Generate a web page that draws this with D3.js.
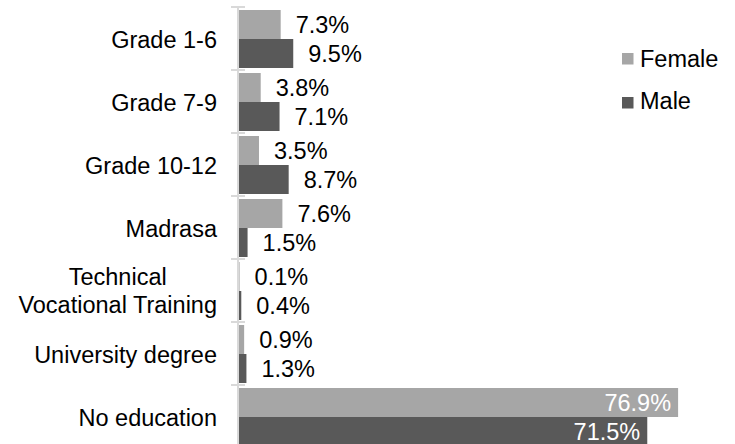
<!DOCTYPE html>
<html>
<head>
<meta charset="utf-8">
<script src="https://cdn.jsdelivr.net/npm/d3@7"></script>
<style>
  body { margin: 0; background: #fff; }
  svg text { font-family: "Liberation Sans", Arial, sans-serif; }
</style>
</head>
<body>
<div class="chart"></div>
<script>
// values (percent)
var categories = ["Grade 1-6", "Grade 7-9", "Grade 10-12", "Madrasa",
                  "Technical\nVocational Training", "University degree", "No education"];
var female = [7.3, 3.8, 3.5, 7.6, 0.1, 0.9, 76.9];
var male   = [9.5, 7.1, 8.7, 1.5, 0.4, 1.3, 71.5];
var seriesNames = ["Female", "Male"];
var seriesColors = ["#a6a6a6", "#595959"];

var W = 735, H = 444;
var fs = "23.5px";

var svg = d3.select(".chart").append("svg")
    .attr("width", W)
    .attr("height", H);

var y = d3.scaleBand()
    .domain(categories)
    .range([7, 7 + 63 * categories.length])
    .paddingInner(0)
    .paddingOuter(0);

var x = d3.scaleLinear()
    .domain([0, 80])
    .range([239, 239 + 5.71 * 80]);

var barH = 29;
var pad = 3;

// bars
var series = [female, male];
series.forEach(function(vals, s){
    svg.append("g").selectAll("rect")
        .data(vals)
        .enter().append("rect")
        .attr("x", x(0))
        .attr("y", function(d, i){ return y(categories[i]) + pad + s * barH; })
        .attr("width", function(d){ return x(d) - x(0); })
        .attr("height", barH)
        .style("fill", seriesColors[s]);

    // value labels
    svg.append("g").selectAll("text")
        .data(vals)
        .enter().append("text")
        .attr("x", function(d){ return d > 50 ? x(d) - 7 : x(d) + 15; })
        .attr("y", function(d, i){ return y(categories[i]) + pad + s * barH + barH / 2 + 8.5; })
        .attr("text-anchor", function(d){ return d > 50 ? "end" : "start"; })
        .attr("font-size", fs)
        .style("fill", function(d){ return d > 50 ? "#ffffff" : "#000000"; })
        .text(function(d){ return d.toFixed(1) + "%"; });
});

// axis line + cross ticks
svg.append("line")
    .attr("x1", 238).attr("x2", 238)
    .attr("y1", y.range()[0]).attr("y2", y.range()[1])
    .style("stroke", "#d9d9d9")
    .style("stroke-width", 2);

var tickPos = categories.map(function(c){ return y(c); }).concat([y.range()[1]]);
svg.append("g").selectAll("line")
    .data(tickPos)
    .enter().append("line")
    .attr("x1", 231).attr("x2", 245)
    .attr("y1", function(d){ return d; })
    .attr("y2", function(d){ return d; })
    .style("stroke", "#d9d9d9")
    .style("stroke-width", 2);

// category labels (multi-line ones are centred on their widest line)
var labelRight = 217;
var cat = svg.append("g").selectAll("text")
    .data(categories)
    .enter().append("text")
    .attr("font-size", fs)
    .style("fill", "#000")
    .attr("y", function(d){
        var lines = d.split("\n");
        return y(d) + y.bandwidth() / 2 + 9 - (lines.length - 1) * 14.5;
    });

cat.each(function(d){
    var t = d3.select(this);
    var lines = d.split("\n");
    var spans = lines.map(function(line, k){
        return t.append("tspan")
            .attr("dy", k === 0 ? 0 : 28)
            .text(line);
    });
    if (lines.length === 1) {
        t.attr("text-anchor", "end");
        spans[0].attr("x", labelRight);
    } else {
        var maxW = d3.max(spans, function(s){ return s.node().getComputedTextLength(); });
        t.attr("text-anchor", "middle");
        spans.forEach(function(s){ s.attr("x", labelRight - maxW / 2); });
    }
});

// legend
var legend = svg.append("g").selectAll("g")
    .data(seriesNames)
    .enter().append("g");

legend.append("rect")
    .attr("x", 622)
    .attr("y", function(d, i){ return 53 + i * 44; })
    .attr("width", 11.5)
    .attr("height", 11.5)
    .style("fill", function(d, i){ return seriesColors[i]; });

legend.append("text")
    .attr("x", 640)
    .attr("y", function(d, i){ return 67 + i * 42; })
    .attr("font-size", fs)
    .style("fill", "#000")
    .text(function(d){ return d; });
</script>
</body>
</html>
